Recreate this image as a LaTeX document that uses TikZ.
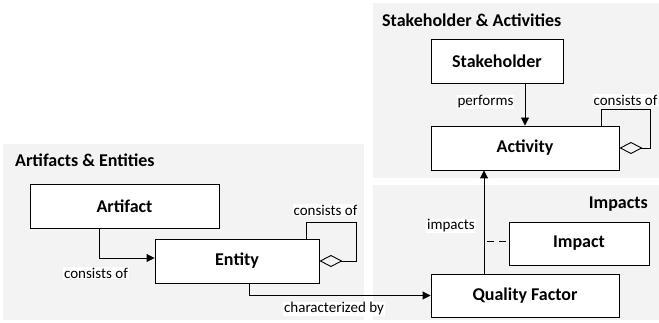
\documentclass[tikz,border=0pt]{standalone}
\usepackage{fontspec}
\setmainfont{Carlito}
\usetikzlibrary{arrows.meta}

\begin{document}
\begin{tikzpicture}[x=1pt,y=-1pt,
  panel/.style={fill={rgb, 255:red, 243; green, 243; blue, 243 }, draw=none},
  classbox/.style={draw={rgb, 255:red, 0; green, 0; blue, 0 }, fill=white, line width=0.9, inner sep=0pt, font=\fontsize{18}{20}\selectfont\bfseries},
  title/.style={inner sep=0pt, font=\fontsize{18}{20}\selectfont\bfseries},
  rolelabel/.style={fill=white, inner sep=1pt, font=\fontsize{15}{17}\selectfont},
  link/.style={line width=0.9},
  assoc/.style={link, -{Triangle[length=8pt,width=8pt]}},
  aggr/.style={link, {Diamond[open,length=23pt,width=12pt,line width=0.9]}-}
]
\useasboundingbox (0,0) rectangle (659,323);

%Shape: Panels
\fill [panel] (3,144) rectangle (364,320);
\fill [panel] (373,3) rectangle (659,178);
\fill [panel] (373,185) rectangle (659,320);

% Text Node
\node [title, anchor=west] (artTitle) at (15,160) {Artifacts \& Entities};
% Text Node
\node [title, anchor=west] (stkTitle) at (382,20) {Stakeholder \& Activities};
% Text Node
\node [title, anchor=east] (impTitle) at (648,204) {Impacts};

%Shape: Class boxes
\node [classbox, minimum width=189, minimum height=44] (artifact) at (124.5,206) {Artifact};
\node [classbox, minimum width=164, minimum height=44] (entity) at (237,261) {Entity};
\node [classbox, minimum width=132, minimum height=44] (stakeholder) at (497,61) {Stakeholder};
\node [classbox, minimum width=188, minimum height=44] (activity) at (525,148) {Activity};
\node [classbox, minimum width=140, minimum height=43] (impact) at (579,243.5) {Impact};
\node [classbox, minimum width=188, minimum height=43] (quality) at (525,295.5) {Quality Factor};

%Straight Lines
\draw [assoc] ([xshift=-25.5pt]artifact.south) |- ([yshift=3pt]entity.west);
\draw [assoc] ([xshift=12pt]entity.south) |- (quality.west);
\draw [assoc] (activity.north |- stakeholder.south) -- (activity.north);
\draw [assoc] ([xshift=-41pt]quality.north) -- ([xshift=-41pt]activity.south);

%Self loops
\draw [aggr] (entity.east) -| (356,222) -| ([xshift=69pt]entity.north);
\draw [aggr] (activity.east) -| (650,109) -| ([xshift=76pt]activity.north);

%Dashed link
\coordinate (impactsEnd) at (487,241);
\draw [link, dash pattern={on 7pt off 5pt}] (impactsEnd) -- (impactsEnd -| impact.west);

% Text Node
\node [rolelabel] (lblArtifact) at (96,273) {consists of};
% Text Node
\node [rolelabel] (lblEntity) at (325.5,210) {consists of};
% Text Node
\node [rolelabel] (lblCharacterized) at (334,309) {characterized by};
% Text Node
\node [rolelabel] (lblPerforms) at (485.5,102) {performs};
% Text Node
\node [rolelabel] (lblActivity) at (625.5,100) {consists of};
% Text Node
\node [rolelabel] (lblImpacts) at (451,226) {impacts};

\end{tikzpicture}
\end{document}
